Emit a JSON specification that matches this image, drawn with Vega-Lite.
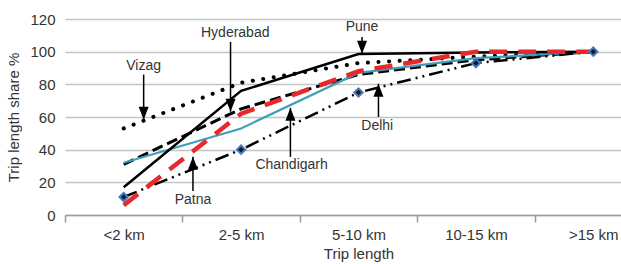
{
  "$schema": "https://vega.github.io/schema/vega-lite/v6.json",
  "width": 587,
  "height": 196,
  "autosize": {"type": "none"},
  "padding": {"left": 65, "top": 19, "right": 0, "bottom": 49},
  "background": "white",
  "config": {
    "font": "Liberation Sans",
    "view": {"stroke": null},
    "axis": {"labelFont": "Liberation Sans", "titleFont": "Liberation Sans", "labelColor": "#333333", "titleColor": "#333333", "titleFontWeight": "normal", "labelFontSize": 15, "titleFontSize": 15},
    "axisY": {"tickCount": 10, "labelOverlap": false},
    "axisX": {"tickCount": 20}
  },
  "datasets": {
    "shares": [
      {"city": "Pune", "i": 0, "trip": "<2 km", "share": 17},
      {"city": "Pune", "i": 1, "trip": "2-5 km", "share": 76},
      {"city": "Pune", "i": 2, "trip": "5-10 km", "share": 98.5},
      {"city": "Pune", "i": 3, "trip": "10-15 km", "share": 99.5},
      {"city": "Pune", "i": 4, "trip": ">15 km", "share": 100},
      {"city": "Hyderabad", "i": 0, "trip": "<2 km", "share": 31},
      {"city": "Hyderabad", "i": 1, "trip": "2-5 km", "share": 65},
      {"city": "Hyderabad", "i": 2, "trip": "5-10 km", "share": 86},
      {"city": "Hyderabad", "i": 3, "trip": "10-15 km", "share": 95},
      {"city": "Hyderabad", "i": 4, "trip": ">15 km", "share": 100},
      {"city": "Vizag", "i": 0, "trip": "<2 km", "share": 53},
      {"city": "Vizag", "i": 1, "trip": "2-5 km", "share": 81},
      {"city": "Vizag", "i": 2, "trip": "5-10 km", "share": 93},
      {"city": "Vizag", "i": 3, "trip": "10-15 km", "share": 97},
      {"city": "Vizag", "i": 4, "trip": ">15 km", "share": 100},
      {"city": "Chandigarh", "i": 0, "trip": "<2 km", "share": 32},
      {"city": "Chandigarh", "i": 1, "trip": "2-5 km", "share": 53},
      {"city": "Chandigarh", "i": 2, "trip": "5-10 km", "share": 87},
      {"city": "Chandigarh", "i": 3, "trip": "10-15 km", "share": 96},
      {"city": "Chandigarh", "i": 4, "trip": ">15 km", "share": 100},
      {"city": "Patna", "i": 0, "trip": "<2 km", "share": 6},
      {"city": "Patna", "i": 1, "trip": "2-5 km", "share": 62},
      {"city": "Patna", "i": 2, "trip": "5-10 km", "share": 88},
      {"city": "Patna", "i": 3, "trip": "10-15 km", "share": 100},
      {"city": "Patna", "i": 4, "trip": ">15 km", "share": 100},
      {"city": "Delhi", "i": 0, "trip": "<2 km", "share": 11},
      {"city": "Delhi", "i": 1, "trip": "2-5 km", "share": 40},
      {"city": "Delhi", "i": 2, "trip": "5-10 km", "share": 75},
      {"city": "Delhi", "i": 3, "trip": "10-15 km", "share": 93},
      {"city": "Delhi", "i": 4, "trip": ">15 km", "share": 100}
    ],
    "notes": [
      {"label": "Vizag", "lx": 0.17, "ly": 91, "x": 0.17, "tip": 58.3, "tail": 86},
      {"label": "Hyderabad", "lx": 0.95, "ly": 111.7, "x": 0.91, "tip": 63.2, "tail": 106},
      {"label": "Pune", "lx": 2.03, "ly": 115.3, "x": 2.03, "tip": 98.8, "tail": 109},
      {"label": "Chandigarh", "lx": 1.43, "ly": 30.7, "x": 1.42, "tip": 65.6, "tail": 35.6},
      {"label": "Delhi", "lx": 2.16, "ly": 54.6, "x": 2.17, "tip": 80.4, "tail": 60},
      {"label": "Patna", "lx": 0.59, "ly": 9.2, "x": 0.59, "tip": 35.6, "tail": 14.7}
    ],
    "heading": [
      {"text": "Figure 1: Trip length distribution in selected cities", "x": -1.05, "y": 135}
    ]
  },
  "layer": [
    {
      "data": {"name": "shares"},
      "transform": [{"filter": "datum.city === 'Vizag'"}],
      "mark": {"type": "line", "color": "black", "strokeWidth": 4, "strokeDash": [0.1, 10.5], "strokeCap": "round"},
      "encoding": {
        "x": {"field": "i", "type": "quantitative", "scale": {"domain": [-0.5, 4.5], "nice": false, "zero": false},
          "axis": {"values": [-0.5, 0, 0.5, 1, 1.5, 2, 2.5, 3, 3.5, 4, 4.5], "tickCount": 20,
            "labelExpr": "datum.value % 1 === 0 ? ['<2 km','2-5 km','5-10 km','10-15 km','>15 km'][datum.value] : ''",
            "tickOpacity": {"condition": {"test": "datum.value % 1 === 0", "value": 0}, "value": 1},
            "grid": false, "domainColor": "#9a9a9a", "tickColor": "#9a9a9a", "tickSize": 7, "domainWidth": 1.5, "tickWidth": 1.5,
            "title": "Trip length", "labelPadding": 5, "titlePadding": 4, "labelFlush": false, "labelOverlap": false}},
        "y": {"field": "share", "type": "quantitative", "scale": {"domain": [0, 120], "nice": false},
          "axis": {"values": [0, 20, 40, 60, 80, 100, 120], "tickCount": 10, "title": "Trip length share %", "domain": false, "ticks": false, "tickSize": 0,
            "labelPadding": 10, "labelOverlap": false, "labelFlush": false, "gridColor": "#c4c4c4", "gridWidth": 1.5, "titlePadding": 8}}
      }
    },
    {
      "data": {"name": "shares"},
      "transform": [{"filter": "datum.city === 'Hyderabad'"}],
      "mark": {"type": "line", "color": "black", "strokeWidth": 3, "strokeDash": [11, 5]},
      "encoding": {"x": {"field": "i", "type": "quantitative"}, "y": {"field": "share", "type": "quantitative"}}
    },
    {
      "data": {"name": "shares"},
      "transform": [{"filter": "datum.city === 'Chandigarh'"}],
      "mark": {"type": "line", "color": "#3f9fb8", "strokeWidth": 2.2},
      "encoding": {"x": {"field": "i", "type": "quantitative"}, "y": {"field": "share", "type": "quantitative"}}
    },
    {
      "data": {"name": "shares"},
      "transform": [{"filter": "datum.city === 'Pune'"}],
      "mark": {"type": "line", "color": "black", "strokeWidth": 2.5},
      "encoding": {"x": {"field": "i", "type": "quantitative"}, "y": {"field": "share", "type": "quantitative"}}
    },
    {
      "data": {"name": "shares"},
      "transform": [{"filter": "datum.city === 'Delhi'"}],
      "mark": {"type": "line", "color": "black", "strokeWidth": 2.5, "strokeDash": [14, 5, 2, 5, 2, 5]},
      "encoding": {"x": {"field": "i", "type": "quantitative"}, "y": {"field": "share", "type": "quantitative"}}
    },
    {
      "data": {"name": "shares"},
      "transform": [{"filter": "datum.city === 'Patna'"}],
      "mark": {"type": "line", "color": "#e8282b", "strokeWidth": 4.5, "strokeDash": [18, 11]},
      "encoding": {"x": {"field": "i", "type": "quantitative"}, "y": {"field": "share", "type": "quantitative"}}
    },
    {
      "data": {"name": "shares"},
      "transform": [{"filter": "datum.city === 'Delhi'"}],
      "mark": {"type": "point", "shape": "diamond", "filled": true, "fill": "#1a1a1a", "stroke": "#3d7cc9", "strokeWidth": 2, "size": 70, "opacity": 1},
      "encoding": {"x": {"field": "i", "type": "quantitative"}, "y": {"field": "share", "type": "quantitative"}}
    },
    {
      "data": {"name": "notes"},
      "mark": {"type": "rule", "color": "black", "strokeWidth": 1.5},
      "encoding": {"x": {"field": "x", "type": "quantitative"}, "y": {"field": "tip", "type": "quantitative"}, "y2": {"field": "tail"}}
    },
    {
      "data": {"name": "notes"},
      "transform": [{"filter": "datum.tail > datum.tip"}],
      "mark": {"type": "point", "shape": "M-1,-2.6L1,-2.6L0,0Z", "filled": true, "color": "black", "size": 100, "opacity": 1},
      "encoding": {"x": {"field": "x", "type": "quantitative"}, "y": {"field": "tip", "type": "quantitative"}}
    },
    {
      "data": {"name": "notes"},
      "transform": [{"filter": "datum.tail < datum.tip"}],
      "mark": {"type": "point", "shape": "M-1,2.6L1,2.6L0,0Z", "filled": true, "color": "black", "size": 100, "opacity": 1},
      "encoding": {"x": {"field": "x", "type": "quantitative"}, "y": {"field": "tip", "type": "quantitative"}}
    },
    {
      "data": {"name": "notes"},
      "mark": {"type": "text", "font": "Liberation Sans", "fontSize": 14, "color": "#333333", "align": "center", "baseline": "middle"},
      "encoding": {"x": {"field": "lx", "type": "quantitative"}, "y": {"field": "ly", "type": "quantitative"}, "text": {"field": "label"}}
    },
    {
      "data": {"name": "heading"},
      "mark": {"type": "text", "font": "Liberation Sans", "fontSize": 16, "fontWeight": "bold", "color": "#222222", "align": "left", "baseline": "alphabetic"},
      "encoding": {"x": {"field": "x", "type": "quantitative"}, "y": {"field": "y", "type": "quantitative"}, "text": {"field": "text"}}
    }
  ]
}
